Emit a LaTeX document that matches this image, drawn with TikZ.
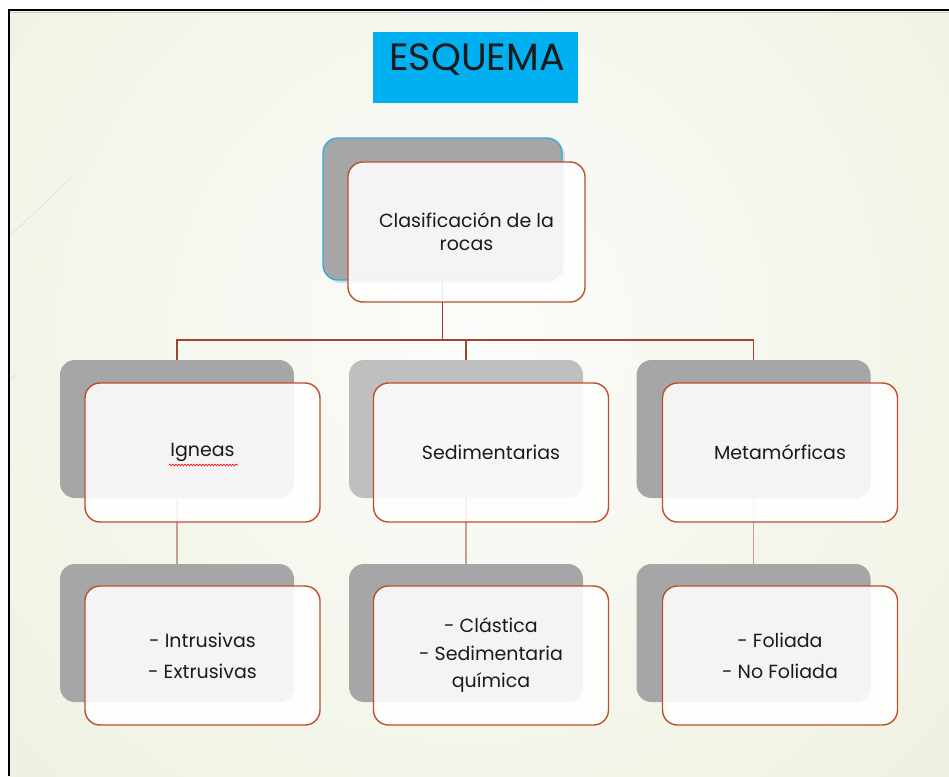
\documentclass[tikz,border=0pt]{standalone}
\usepackage{fontspec}
\setmainfont{Poppins}
\usetikzlibrary{decorations.pathmorphing}
\definecolor{bgout}{HTML}{EDF1DF}
\definecolor{bgin}{HTML}{FCFCFA}
\definecolor{titlecyan}{HTML}{00B0F0}
\definecolor{txt}{HTML}{1A1A1A}
\definecolor{shadegray}{HTML}{A6A6A6}
\definecolor{lightgray}{HTML}{BFBFBF}
\definecolor{rootblue}{HTML}{2FAAE1}
\definecolor{frontline}{HTML}{BE4F2E}
\definecolor{conn}{HTML}{A4442E}
\definecolor{connlight}{HTML}{CC9C8E}
\begin{document}
\begin{tikzpicture}[x=1pt,y=-1pt,
  backbox/.style={rounded corners=15pt, fill=shadegray, draw=none, minimum width=234pt, minimum height=138pt, inner sep=0pt},
  frontbox/.style={rounded corners=15pt, draw=frontline, line width=1.4pt, fill=white, fill opacity=0.88, text opacity=1, minimum width=235pt, minimum height=139pt, inner sep=0pt, align=center, font=\fontsize{19}{30}\selectfont, text=txt},
  connector/.style={draw=conn, line width=1.3pt},
  connlow/.style={draw=connlight, line width=1.3pt}]
% page and background
\useasboundingbox (0,0) rectangle (949,776);
\fill[white] (0,0) rectangle (949,776);
\begin{scope}
\clip (9,11) rectangle (949,776);
\shade[inner color=bgin, outer color=bgout] (470,330) circle (700pt);
\end{scope}
\draw[line width=2pt, black] (9,776) -- (9,10) -- (949,10);
\draw[gray!40, line width=0.8pt] (11,12) -- (949,12);
\draw[color=black!12, line width=0.7pt] (72,177) -- (11,235);
\draw[color=black!15, line width=0.7pt] (16,375) -- (11,379);
% title
\node[fill=titlecyan, minimum width=205pt, minimum height=71pt, inner sep=0pt] (title) at (475.5,67.5) {};
\node[text=txt, font=\fontsize{38}{40}\selectfont, anchor=center] (titletext) at (477,60) {ESQUEMA};
% back boxes
\node[backbox, minimum width=239pt, minimum height=142pt, fill=black!25, opacity=0.5] (rgs) at (445.5,212) {};
\node[backbox, minimum width=239pt, minimum height=142pt, draw=rootblue, line width=1.3pt] (rg) at (442.5,209) {};
\node[backbox] (g1) at (177,429) {};
\node[backbox, fill=lightgray] (g2) at (466,429) {};
\node[backbox] (g3) at (753.5,429) {};
\node[backbox] (h1) at (177,633) {};
\node[backbox] (h2) at (466,633) {};
\node[backbox] (h3) at (753.5,633) {};
% connectors
\coordinate (bus) at (442.5,340);
\draw[connector, line width=1.8pt, draw=conn!85!black] (rg.south) -- (bus);
\draw[connector] (g1.north) |- (bus) -| (g3.north);
\draw[connector] (g2.north) -- (g2.north |- bus);
\draw[connlow] (g1.south) -- (h1.north);
\draw[connlow] (g2.south) -- (h2.north);
\draw[connlow] (g3.south) -- (h3.north);
% front boxes
\node[frontbox, minimum width=237pt, minimum height=140pt] (root) at (466.5,232) {Clasificación de la\\[-7pt]rocas};
\node[frontbox] (f1) at (202.5,452.5) {Igneas};
\node[frontbox] (f2) at (491,452.5) {Sedimentarias};
\node[frontbox] (f3) at (780,452.5) {Metamórficas};
\node[frontbox] (k1) at (202.5,655.5) {- Intrusivas\\[1pt]- Extrusivas};
\node[frontbox] (k2) at (491,655.5) {- Clástica\\[-2pt]- Sedimentaria\\[-3pt]química};
\node[frontbox] (k3) at (780,655.5) {- Foliada\\[1pt]- No Foliada};
% spell-check underline
\draw[red, line width=0.6pt, decorate, decoration={snake, amplitude=0.9pt, segment length=3pt}] (169,465) -- (238,465);
\end{tikzpicture}
\end{document}
